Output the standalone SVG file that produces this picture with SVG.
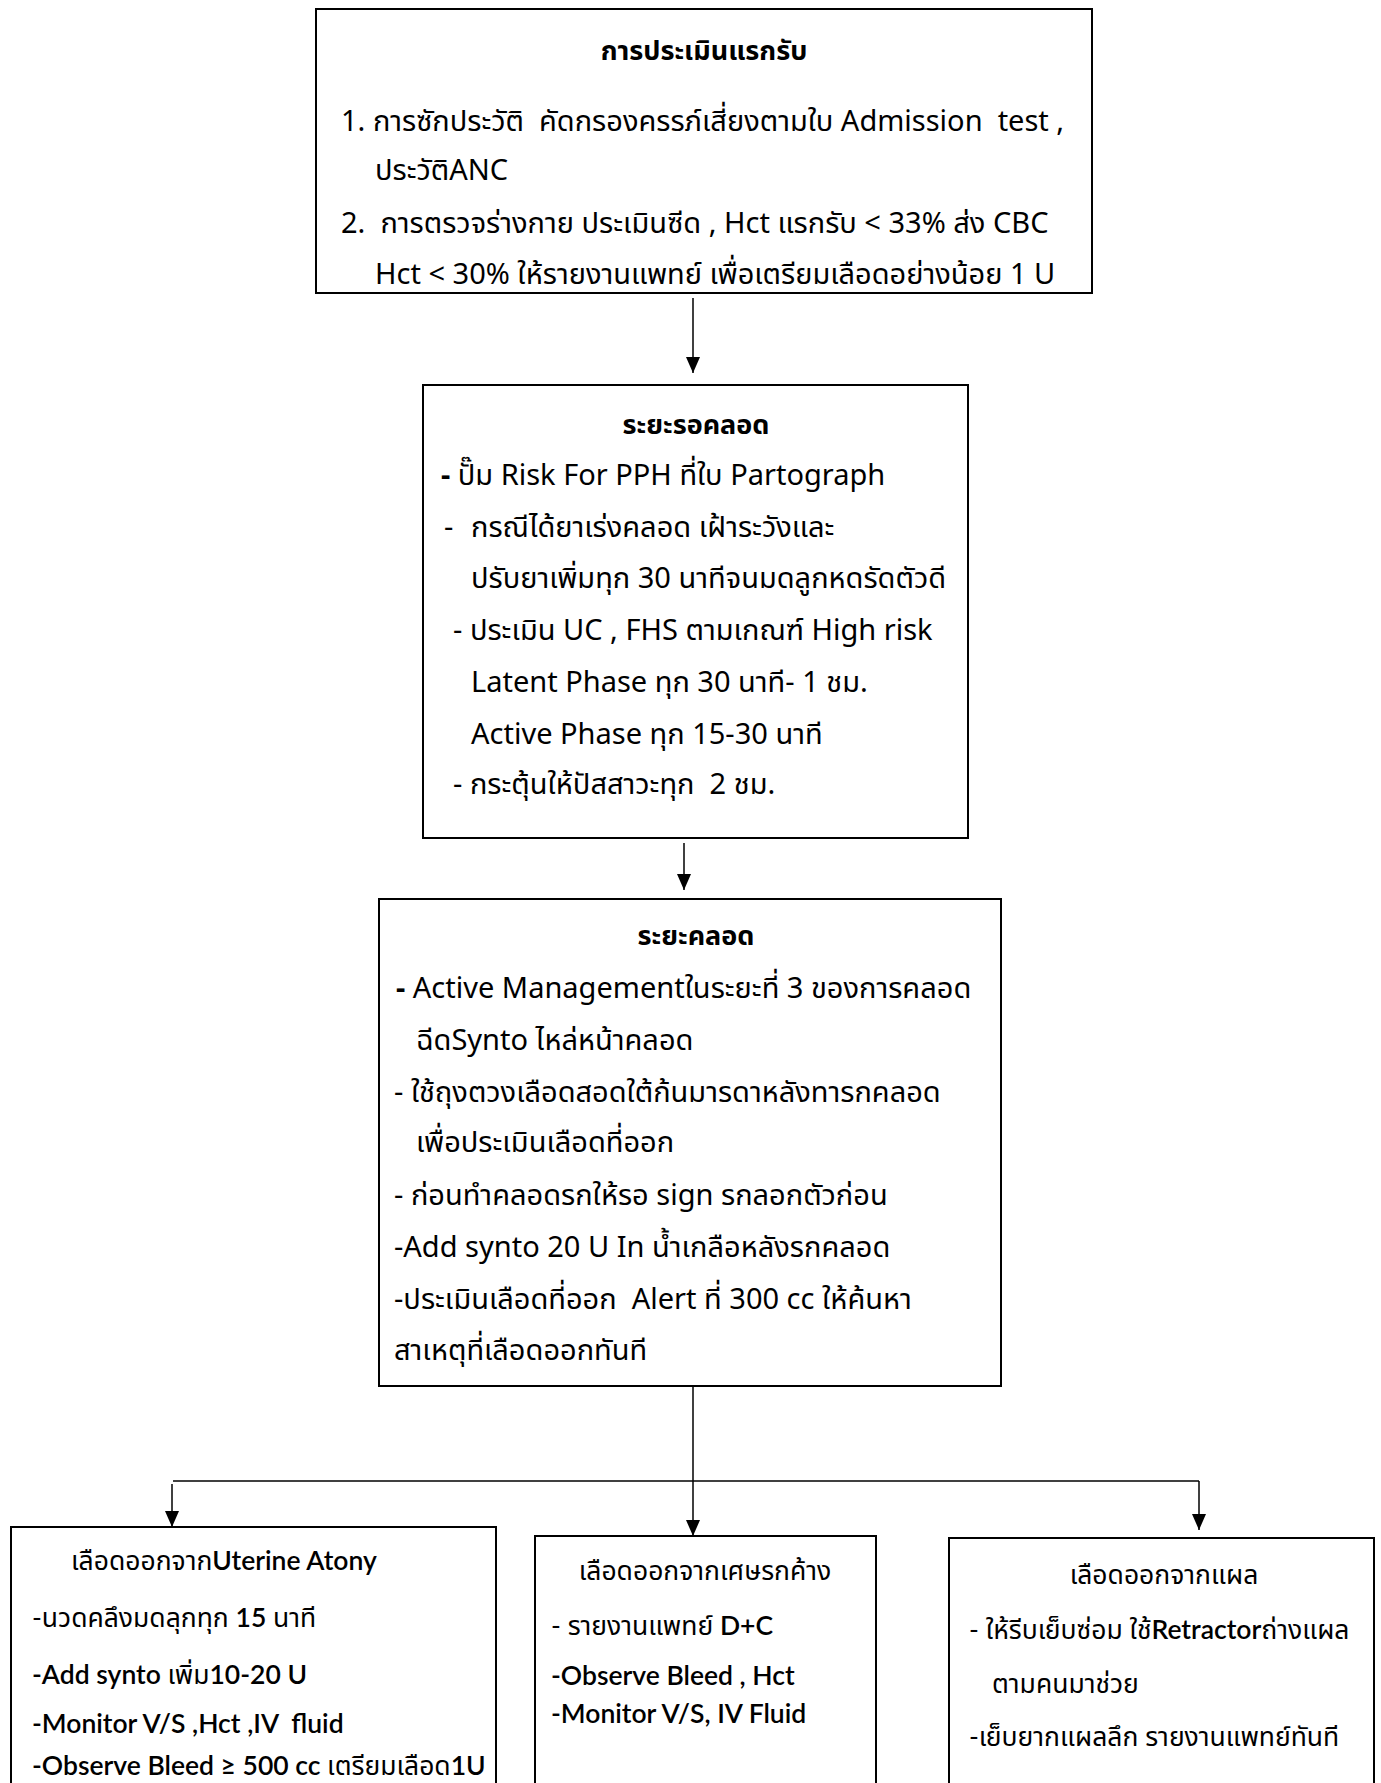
<svg xmlns="http://www.w3.org/2000/svg" width="1381" height="1783" viewBox="0 0 1381 1783">
<style>
.box{fill:none;stroke:#000;stroke-width:2}
.con{fill:none;stroke:#000;stroke-width:1.5}
.t{font-family:"Noto Sans","Noto Sans Thai","Open Sans",sans-serif;font-size:29px;fill:#000}
.h{font-family:"Noto Sans","Noto Sans Thai","Open Sans",sans-serif;font-size:27px;font-weight:bold;fill:#000}
.s{font-family:"Lato","Noto Sans","Noto Sans Thai",sans-serif;font-size:26.5px;fill:#000}
.sb{font-weight:600}
.c{text-anchor:middle}
</style>
<defs>
<marker id="arr" markerUnits="userSpaceOnUse" markerWidth="16" markerHeight="14" viewBox="0 0 16 14" refX="16" refY="7" orient="auto">
<path d="M0,0 L16,7 L0,14 z" fill="#000"/>
</marker>
</defs>
<g id="connectors">
<line class="con" x1="693" y1="298" x2="693" y2="373" marker-end="url(#arr)"/>
<line class="con" x1="684" y1="843" x2="684" y2="890" marker-end="url(#arr)"/>
<line class="con" x1="693" y1="1386" x2="693" y2="1536" marker-end="url(#arr)"/>
<line class="con" x1="173" y1="1481" x2="1199" y2="1481"/>
<line class="con" x1="172" y1="1484" x2="172" y2="1527" marker-end="url(#arr)"/>
<line class="con" x1="1199" y1="1481" x2="1199" y2="1530" marker-end="url(#arr)"/>
</g>
<g id="node-admission">
<rect class="box" x="316" y="9" width="776" height="284"/>
<text class="h c" x="704" y="60">การประเมินแรกรับ</text>
<text class="t" x="341" y="131" xml:space="preserve">1. การซักประวัติ  คัดกรองครรภ์เสี่ยงตามใบ Admission  test ,</text>
<text class="t" x="375" y="180">ประวัติANC</text>
<text class="t" x="341" y="233" xml:space="preserve">2.  การตรวจร่างกาย ประเมินซีด , Hct แรกรับ &lt; 33% ส่ง CBC</text>
<text class="t" x="375" y="284">Hct &lt; 30% ให้รายงานแพทย์ เพื่อเตรียมเลือดอย่างน้อย 1 U</text>
</g>
<g id="node-waiting">
<rect class="box" x="423" y="385" width="545" height="453"/>
<text class="h c" x="696" y="434">ระยะรอคลอด</text>
<text class="t" x="441" y="485"><tspan font-weight="bold">-</tspan> ปั๊ม Risk For PPH ที่ใบ Partograph</text>
<text class="t" y="537"><tspan x="444">-</tspan><tspan x="471">กรณีได้ยาเร่งคลอด เฝ้าระวังและ</tspan></text>
<text class="t" x="471" y="588">ปรับยาเพิ่มทุก 30 นาทีจนมดลูกหดรัดตัวดี</text>
<text class="t" x="453" y="640">- ประเมิน UC , FHS ตามเกณฑ์ High risk</text>
<text class="t" x="471" y="692">Latent Phase ทุก 30 นาที- 1 ชม.</text>
<text class="t" x="471" y="744">Active Phase ทุก 15-30 นาที</text>
<text class="t" x="453" y="794" xml:space="preserve">- กระตุ้นให้ปัสสาวะทุก  2 ชม.</text>
</g>
<g id="node-delivery">
<rect class="box" x="379" y="899" width="622" height="487"/>
<text class="h c" x="696" y="945">ระยะคลอด</text>
<text class="t" x="396" y="998"><tspan font-weight="bold">-</tspan> Active Managementในระยะที่ 3 ของการคลอด</text>
<text class="t" x="416" y="1050">ฉีดSynto ไหล่หน้าคลอด</text>
<text class="t" x="394" y="1102">- ใช้ถุงตวงเลือดสอดใต้ก้นมารดาหลังทารกคลอด</text>
<text class="t" x="416" y="1152">เพื่อประเมินเลือดที่ออก</text>
<text class="t" x="394" y="1205">- ก่อนทำคลอดรกให้รอ sign รกลอกตัวก่อน</text>
<text class="t" x="394" y="1257">-Add synto 20 U In น้ำเกลือหลังรกคลอด</text>
<text class="t" x="394" y="1309" xml:space="preserve">-ประเมินเลือดที่ออก  Alert ที่ 300 cc ให้ค้นหา</text>
<text class="t" x="394" y="1360">สาเหตุที่เลือดออกทันที</text>
</g>
<g id="node-atony">
<rect class="box" x="11" y="1527" width="485" height="270"/>
<text class="s" x="71" y="1570">เลือดออกจาก<tspan class="sb">Uterine Atony</tspan></text>
<text class="s" x="32" y="1627">-นวดคลึงมดลุกทุก <tspan class="sb">15</tspan> นาที</text>
<text class="s" x="32" y="1684"><tspan class="sb">-Add synto </tspan>เพิ่ม<tspan class="sb">10-20 U</tspan></text>
<text class="s sb" x="32" y="1733" xml:space="preserve">-Monitor V/S ,Hct ,IV  fluid</text>
<text class="s" x="32" y="1775"><tspan class="sb">-Observe Bleed ≥ 500 cc </tspan>เตรียมเลือด<tspan class="sb">1U</tspan></text>
</g>
<g id="node-retained">
<rect class="box" x="535" y="1536" width="341" height="260"/>
<text class="s c" x="705" y="1580">เลือดออกจากเศษรกค้าง</text>
<text class="s" x="551" y="1635">- รายงานแพทย์ <tspan class="sb">D+C</tspan></text>
<text class="s sb" x="551" y="1685">-Observe Bleed , Hct</text>
<text class="s sb" x="551" y="1723">-Monitor V/S, IV Fluid</text>
</g>
<g id="node-wound">
<rect class="box" x="949" y="1538" width="425" height="260"/>
<text class="s c" x="1164" y="1584">เลือดออกจากแผล</text>
<text class="s" x="969" y="1639">- ให้รีบเย็บซ่อม ใช้<tspan class="sb">Retractor</tspan>ถ่างแผล</text>
<text class="s" x="992" y="1693">ตามคนมาช่วย</text>
<text class="s" x="969" y="1746">-เย็บยากแผลลึก รายงานแพทย์ทันที</text>
</g>
</svg>
